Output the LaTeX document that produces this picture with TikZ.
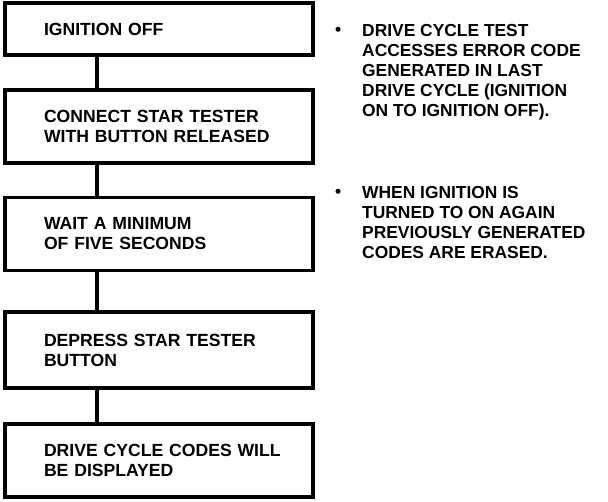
\documentclass[tikz,border=0pt]{standalone}
\usepackage{fontspec}
\setmainfont{Liberation Sans}
\begin{document}
\begin{tikzpicture}[x=1pt,y=-1pt,
  stepbox/.style={draw,line width=3.5pt,text width=230pt,inner xsep=39pt,inner ysep=0pt,
    minimum height=73pt,align=left,font=\fontsize{17.6}{20}\selectfont\bfseries},
  note/.style={anchor=north west,inner sep=0pt,align=left,font=\fontsize{17.4}{20}\selectfont\bfseries},
  link/.style={line width=3.5pt}]
\useasboundingbox (0,0) rectangle (608,502);
% flow of steps
\node[stepbox,minimum height=52pt] (ignoff) at (159,29) {\raisebox{-3pt}{IGNITION OFF}};
\node[stepbox] (connect) at (159,126.5) {CONNECT STAR TESTER\\WITH BUTTON RELEASED};
\node[stepbox] (waitfive) at (159,234) {WAIT A MINIMUM\\OF FIVE SECONDS};
\node[stepbox,minimum height=76pt] (depress) at (159,350) {DEPRESS STAR TESTER\\BUTTON};
\node[stepbox] (display) at (159,460.5) {\mbox{DRIVE CYCLE CODES WILL}\\BE DISPLAYED};
\coordinate (spine) at (97,0);
\foreach \a/\b in {ignoff/connect,connect/waitfive,waitfive/depress,depress/display}
  \draw[link] (\a.south -| spine) -- (\b.north -| spine);
% notes
\node[note] (drivenote) at (362,24) {\llap{\raisebox{1pt}{\textbullet}\hspace{21pt}}DRIVE CYCLE TEST\\ACCESSES ERROR CODE\\GENERATED IN LAST\\DRIVE CYCLE (IGNITION\\ON TO IGNITION OFF).};
\node[note] (erasenote) at (362,186) {\llap{\raisebox{1pt}{\textbullet}\hspace{21pt}}WHEN IGNITION IS\\TURNED TO ON AGAIN\\PREVIOUSLY GENERATED\\CODES ARE ERASED.};
\end{tikzpicture}
\end{document}
